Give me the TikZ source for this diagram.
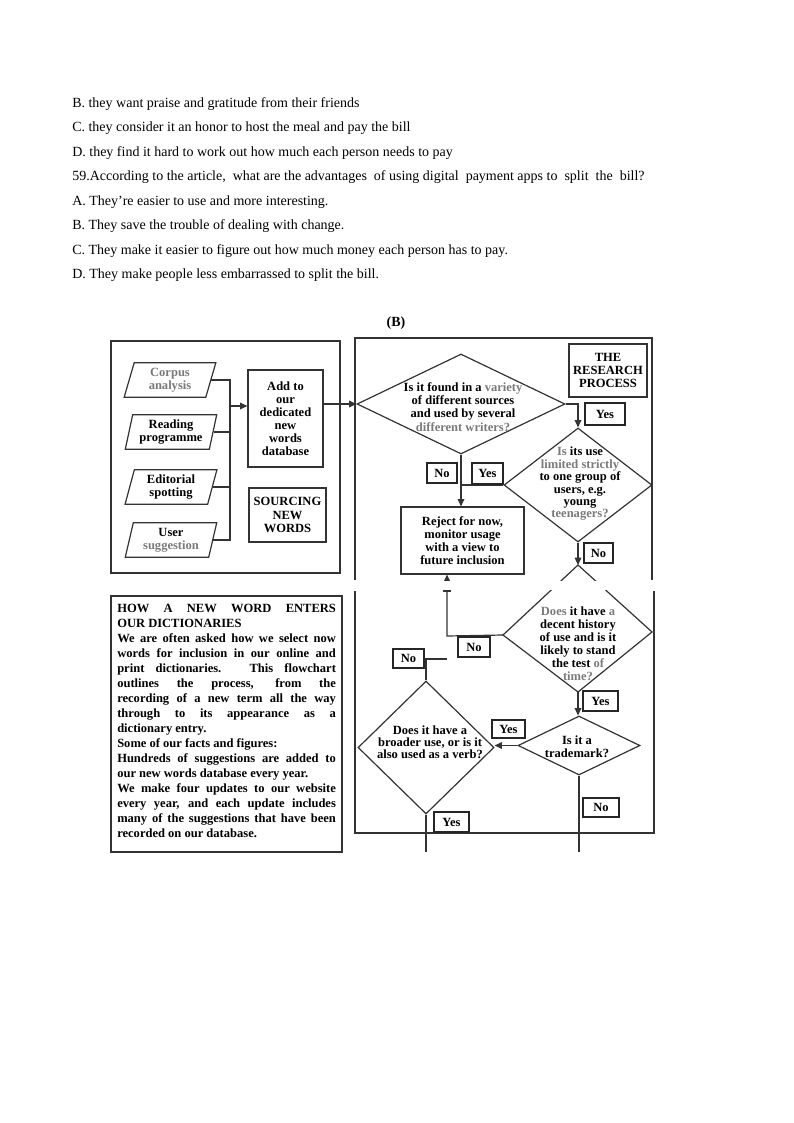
\documentclass[tikz,border=0pt]{standalone}
\usepackage{fontspec}
\setmainfont{Liberation Serif}
\usetikzlibrary{shapes.geometric,arrows.meta}
\definecolor{ink}{HTML}{333333}
\definecolor{faint}{HTML}{7A7A7A}
\begin{document}
\begin{tikzpicture}[x=0.75pt,y=-0.75pt,
  line/.style={draw=ink, line width=0.9pt},
  arr/.style={line, -{Triangle[length=5.5pt,width=5pt]}},
  qtext/.style={font=\fontsize{10.5}{12}\selectfont, anchor=base west, inner sep=0},
  dtext/.style={font=\bfseries\fontsize{9.4}{9.8}\selectfont, align=center, inner sep=0, text=black},
  pbox/.style={trapezium, trapezium left angle=76, trapezium right angle=104, trapezium stretches=true, minimum width=69pt, minimum height=26pt, line, inner sep=0, font=\bfseries\fontsize{9.4}{9.8}\selectfont, align=center},
  rbox/.style={line, rectangle, inner sep=0},
  dia/.style={diamond, line, inner sep=0},
  lab/.style={draw=black!85, line width=1.1pt, font=\bfseries\fontsize{9.4}{10}\selectfont, inner sep=0}
]
\fill[white] (0,0) rectangle (793,1123);
\useasboundingbox (0,0) rectangle (793,1123);

% ---- question text ----
\node[qtext] (q1) at (72,107.5) {B. they want praise and gratitude from their friends};
\node[qtext] (q2) at (72,132) {C. they consider it an honor to host the meal and pay the bill};
\node[qtext] (q3) at (72,156.3) {D. they find it hard to work out how much each person needs to pay};
\node[qtext] (q4) at (72,181) {59.According to the article,\ \ what are the advantages\ \ of using digital\ \ payment apps to\ \ split\ \ the\ \ bill?};
\node[qtext] (q5) at (72,205.5) {A.\ They’re easier to use and more interesting.};
\node[qtext] (q6) at (72,229.8) {B.\ They save the trouble of dealing with change.};
\node[qtext] (q7) at (72,254.2) {C.\ They make it easier to figure out how much money each person has to pay.};
\node[qtext] (q8) at (72,278.5) {D.\ They make people less embarrassed to split the bill.};
\node[font=\bfseries\fontsize{10.5}{12}\selectfont, anchor=base, inner sep=0] (partb) at (396,326) {(B)};

% ---- sourcing new words ----
\draw[line] (111,341) rectangle (340,573);
\node[pbox, text=faint] (corpus) at (170,380) {Corpus\\analysis};
\node[pbox] (reading) at (171,432) {Reading\\programme};
\node[pbox] (editorial) at (171,487) {Editorial\\spotting};
\node[pbox] (user) at (171,540) {User\\\textcolor{faint}{suggestion}};
\coordinate (bustop) at (230,380);
\coordinate (busout) at (230,406);
\draw[line] (corpus.east) -- (corpus.east -| bustop) -- (bustop |- user.east) -- (user.east);
\draw[line] (reading.east) -- (reading.east -| bustop);
\draw[line] (editorial.east) -- (editorial.east -| bustop);
\node[rbox, dtext, minimum width=56.25pt, minimum height=72.75pt] (addbox) at (285.5,418.5) {Add to\\our\\dedicated\\new\\words\\database};
\draw[arr] (busout) -- (busout -| addbox.west);
\node[rbox, dtext, minimum width=57.75pt, minimum height=40.5pt] (source) at (287.5,515) {SOURCING\\NEW\\WORDS};

% ---- research process frame ----
\draw[line] (355,580) -- (355,338) -- (652,338) -- (652,580);
\draw[line] (355,591) -- (355,833) -- (654,833) -- (654,591);
\node[rbox, dtext, minimum width=58.5pt, minimum height=39.75pt] (research) at (608,370.5) {THE\\RESEARCH\\PROCESS};

\node[dia, minimum width=156pt, minimum height=75pt] (d1) at (461,404) {};
\node[dtext, font=\bfseries\fontsize{9.4}{10}\selectfont] (d1t) at (463,407) {Is it found in a \textcolor{faint}{variety}\\of different sources\\and used by several\\\textcolor{faint}{different writers?}};
\draw[arr] (addbox.east |- d1.west) -- (d1.west);

\node[dia, minimum width=111pt, minimum height=85.5pt] (d2) at (578,485) {};
\node[dtext, font=\bfseries\fontsize{9.4}{9.3}\selectfont] (d2t) at (580,484) {\textcolor{faint}{Is} its use\\\textcolor{faint}{limited strictly}\\to one group of\\users, e.g.\\young\\\textcolor{faint}{teenagers?}};

\node[rbox, dtext, minimum width=92.25pt, minimum height=50.25pt] (reject) at (462.5,540.5) {Reject for now,\\monitor usage\\with a view to\\future inclusion};

\draw[arr] (d1.east) -| (d2.north);
\draw[arr] (d1.south) -- (d1.south |- reject.north);
\draw[line] (d2.west) -- (d2.west -| d1.south);

\node[lab, minimum width=30pt, minimum height=16.5pt] (yes1) at (605,414) {Yes};
\node[lab, minimum width=22.5pt, minimum height=15pt] (no1) at (442,473) {No};
\node[lab, minimum width=23.25pt, minimum height=15.75pt] (yes2) at (487.5,473.5) {Yes};
\node[lab, minimum width=21.75pt, minimum height=15pt] (no2) at (598.5,553) {No};

% diamond 4 (cut by the page seam)
\coordinate (d4n) at (578,565);
\coordinate (d4e) at (652,632);
\coordinate (d4s) at (578,692);
\coordinate (d4w) at (503,635);
\draw[line] (d4n) -- (d4e) -- (d4s) -- (d4w) -- cycle;
\node[dtext, font=\bfseries\fontsize{9.4}{9.75}\selectfont] (d4t) at (578,644) {\textcolor{faint}{Does} it have \textcolor{faint}{a}\\decent history\\of use and is it\\likely to stand\\the test \textcolor{faint}{of}\\\textcolor{faint}{time?}};
\draw[arr] (d2.south) -- (d4n);

\coordinate (ret) at (447,636);
\coordinate (j5) at (447,659);
\draw[arr] (d4w) -- (ret) -- (ret |- reject.south);

\node[dia, minimum width=102pt, minimum height=99.75pt] (d5) at (426,747.5) {};
\node[dtext, font=\bfseries\fontsize{9.4}{8.8}\selectfont] (d5t) at (430,742) {Does it have a\\broader use, or is it\\also used as a verb?};
\draw[line] (d5.north) |- (j5);

\node[dia, minimum width=91.5pt, minimum height=44.25pt] (d6) at (579,745.5) {};
\node[dtext] (d6t) at (577,746.5) {Is it a\\trademark?};
\draw[arr] (d4s) -- (d4s |- d6.north);
\draw[arr] (d6.west) -- (d6.west -| d5.east);

\coordinate (end6) at (579,852);
\coordinate (end5) at (426,852);
\draw[line] (d6.south) -- (end6);
\draw[line] (d5.south) -- (end5);

\node[lab, minimum width=24pt, minimum height=15pt] (no4) at (474,647) {No};
\node[lab, minimum width=23.25pt, minimum height=14.25pt] (no5) at (408.5,658.5) {No};
\node[lab, minimum width=26.25pt, minimum height=15pt] (yes4) at (600.5,701) {Yes};
\node[lab, minimum width=24.75pt, minimum height=13.5pt] (yes6) at (508.5,729) {Yes};
\node[lab, minimum width=27pt, minimum height=14.25pt] (no6) at (601,807.5) {No};
\node[lab, minimum width=26.25pt, minimum height=15pt] (yes5) at (451.5,822) {Yes};

% page seam of the scan
\fill[white] (343,581) rectangle (662,590);
\draw[line] (443,591) -- (451,591);

% ---- explanatory text ----
\draw[line] (111,596) rectangle (342,852);
\node[anchor=north west, inner sep=0, text width=164pt, align=justify, font=\bfseries\fontsize{9.4}{11.25}\selectfont] (howtext) at (117,603.5) {\hyphenpenalty=10000\exhyphenpenalty=10000\noindent HOW A NEW WORD ENTERS\linebreak OUR DICTIONARIES\newline
We are often asked how we select now\linebreak words for inclusion in our online and\linebreak print dictionaries. This flowchart\linebreak outlines the process, from the\linebreak recording of a new term all the way\linebreak through to its appearance as a\linebreak dictionary entry.\newline
Some of our facts and figures:\newline
Hundreds of suggestions are added to\linebreak our new words database every year.\newline
We make four updates to our website\linebreak every year, and each update includes\linebreak many of the suggestions that have been\linebreak recorded on our database.};
\end{tikzpicture}
\end{document}
